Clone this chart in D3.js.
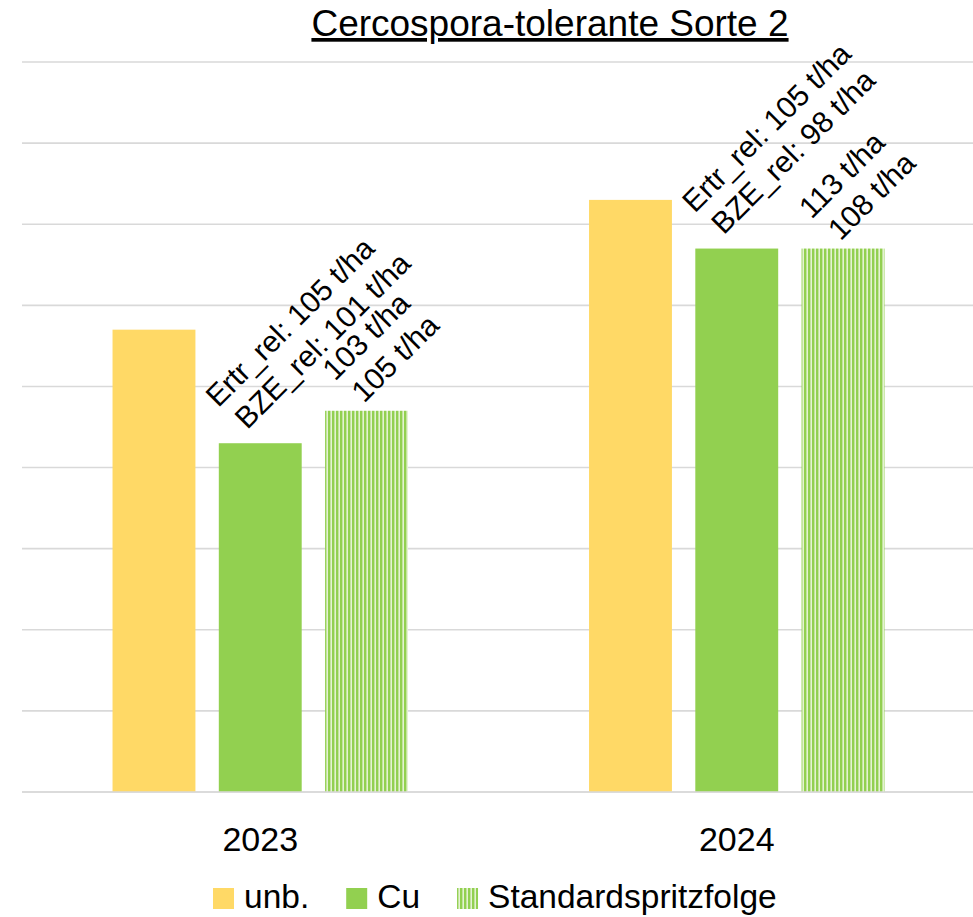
<!DOCTYPE html>
<html>
<head>
<meta charset="utf-8">
<script src="https://cdn.jsdelivr.net/npm/d3@7/dist/d3.min.js"></script>
<style>
  html, body { margin: 0; padding: 0; background: #ffffff; }
  svg { display: block; font-family: "Liberation Sans", Arial, sans-serif; }
</style>
</head>
<body>
<svg id="chart" width="973" height="917"></svg>
<script>
// Jahre und Varianten
const years = ["2023", "2024"];
const seriesNames = ["unb.", "Cu", "Standardspritzfolge"];

// Balkenwerte je Variante (gleiche Reihenfolge wie years)
const unbValues = [57, 73];
const cuValues = [43, 67];
const standardValues = [47, 67];

// Beschriftungen über den Balken (zweizeilig)
const cuLabels = [
  ["Ertr_rel: 105 t/ha", "BZE_rel: 101 t/ha"],
  ["Ertr_rel: 105 t/ha", "BZE_rel: 98 t/ha"]
];
const standardLabels = [
  ["103 t/ha", "105 t/ha"],
  ["113 t/ha", "108 t/ha"]
];

// Hilfslinien der y-Achse
const yTicks = [0, 10, 20, 30, 40, 50, 60, 70, 80, 90];

const title = "Cercospora-tolerante Sorte 2";

const colors = {
  "unb.": "#FFD966",
  "Cu": "#92D050",
  "Standardspritzfolge": "url(#stripes)"
};

const svg = d3.select("#chart");

// Streifenmuster für die Standardspritzfolge
const defs = svg.append("defs");
const pat = defs.append("pattern")
  .attr("id", "stripes")
  .attr("patternUnits", "userSpaceOnUse")
  .attr("width", 4).attr("height", 8);
pat.append("rect").attr("width", 4).attr("height", 8).attr("fill", "#E4F2D2");
pat.append("rect").attr("width", 2.4).attr("height", 8).attr("fill", "#92D050");

const plot = { left: 22, right: 975, top: 62, bottom: 792 };

const x0 = d3.scaleBand()
  .domain(years)
  .range([plot.left, plot.right])
  .paddingInner(0.38)
  .paddingOuter(0.19);

const x1 = d3.scaleBand()
  .domain(seriesNames)
  .range([0, x0.bandwidth()])
  .paddingInner(0.22)
  .paddingOuter(0);

const y = d3.scaleLinear()
  .domain([0, 90])
  .range([plot.bottom, plot.top]);

// Gitternetz
svg.append("g")
  .selectAll("line")
  .data(yTicks)
  .join("line")
  .attr("x1", plot.left)
  .attr("x2", 973)
  .attr("y1", d => y(d))
  .attr("y2", d => y(d))
  .attr("stroke", "#D9D9D9")
  .attr("stroke-width", 1.6);

// Balken
const valuesBySeries = {
  "unb.": unbValues,
  "Cu": cuValues,
  "Standardspritzfolge": standardValues
};
const barData = [];
years.forEach((yr, i) => {
  seriesNames.forEach(s => {
    barData.push({ year: yr, series: s, value: valuesBySeries[s][i], idx: i });
  });
});

svg.append("g")
  .selectAll("rect")
  .data(barData)
  .join("rect")
  .attr("x", d => x0(d.year) + x1(d.series))
  .attr("y", d => y(d.value))
  .attr("width", x1.bandwidth())
  .attr("height", d => y(0) - y(d.value))
  .attr("fill", d => colors[d.series]);

// Grundlinie über den Balken
svg.append("line")
  .attr("x1", plot.left).attr("x2", 973)
  .attr("y1", y(0)).attr("y2", y(0))
  .attr("stroke", "#D9D9D9").attr("stroke-width", 1.6);

// Gedrehte Datenbeschriftungen
const labelData = [];
years.forEach((yr, i) => {
  labelData.push({ year: yr, series: "Cu", value: cuValues[i], lines: cuLabels[i], off: [-13, -13] });
  labelData.push({ year: yr, series: "Standardspritzfolge", value: standardValues[i], lines: standardLabels[i], off: [-2.5, -7] });
});

const lbl = svg.append("g")
  .selectAll("g")
  .data(labelData)
  .join("g")
  .attr("transform", d => {
    const cx = x0(d.year) + x1(d.series) + x1.bandwidth() / 2;
    return `translate(${cx + d.off[0]},${y(d.value) + d.off[1]}) rotate(-45)`;
  });

lbl.append("text")
  .attr("x", -5).attr("y", -36)
  .attr("font-size", 30)
  .attr("fill", "#000")
  .text(d => d.lines[0]);
lbl.append("text")
  .attr("x", 0).attr("y", 0)
  .attr("font-size", 30)
  .attr("fill", "#000")
  .text(d => d.lines[1]);

// Kategorienbeschriftung
svg.append("g")
  .selectAll("text")
  .data(years)
  .join("text")
  .attr("x", d => x0(d) + x0.bandwidth() / 2)
  .attr("y", 851)
  .attr("text-anchor", "middle")
  .attr("font-size", 34)
  .attr("fill", "#000")
  .text(d => d);

// Titel
svg.append("text")
  .attr("x", 550)
  .attr("y", 36)
  .attr("text-anchor", "middle")
  .attr("font-size", 37)
  .attr("text-decoration", "underline")
  .attr("fill", "#000")
  .text(title);

// Legende
const legend = svg.append("g");
let lx = 213;
seriesNames.forEach(s => {
  legend.append("rect")
    .attr("x", lx).attr("y", 888)
    .attr("width", 21).attr("height", 21)
    .attr("fill", colors[s]);
  const t = legend.append("text")
    .attr("x", lx + 31).attr("y", 908)
    .attr("font-size", 33.5)
    .attr("fill", "#000")
    .text(s);
  lx += 31 + t.node().getComputedTextLength() + 37;
});
</script>
</body>
</html>
